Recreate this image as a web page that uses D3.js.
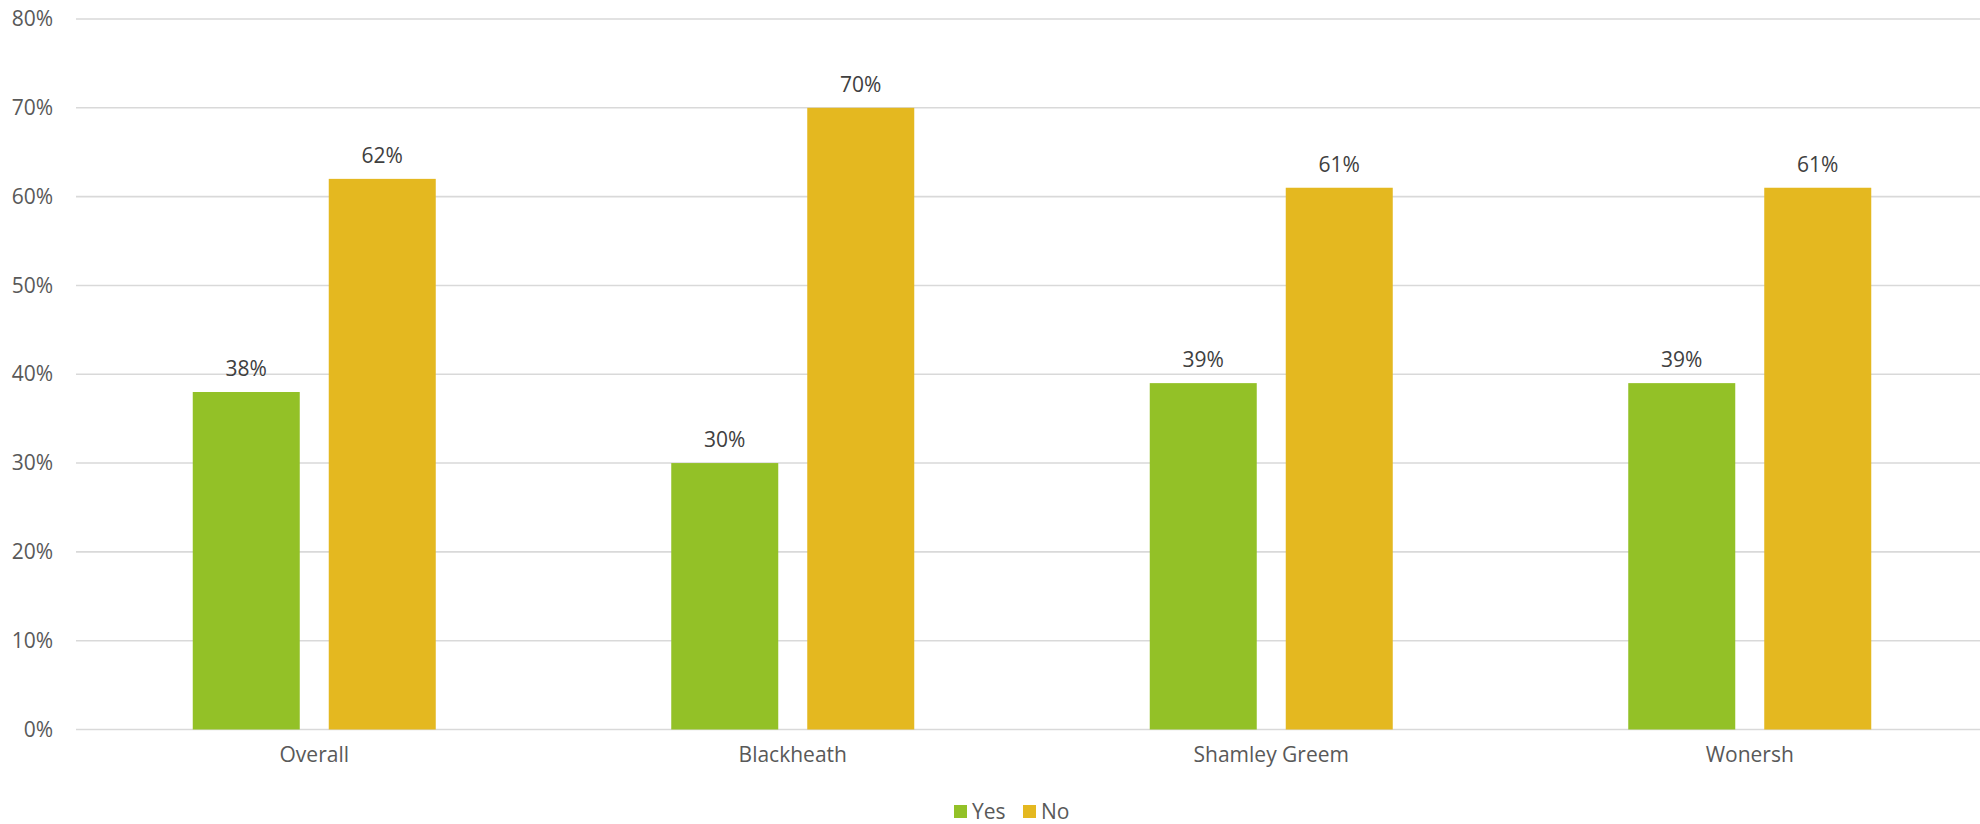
<!DOCTYPE html>
<html><head><meta charset="utf-8">
<script src="https://cdn.jsdelivr.net/npm/d3@7"></script>
<style>html,body{margin:0;padding:0;background:#fff;}</style>
</head><body>
<svg id="chart" width="1980" height="824"></svg>
<script>
const categories = ["Overall", "Blackheath", "Shamley Greem", "Wonersh"];
const seriesNames = ["Yes", "No"];
const yesValues = [38, 30, 39, 39];
const noValues = [62, 70, 61, 61];
const yTicks = [0, 10, 20, 30, 40, 50, 60, 70, 80];
const colors = ["#93c127", "#e4b820"];

const svg = d3.select("#chart");
const font = "'Open Sans', sans-serif";
const fs = 21;
const x0 = d3.scaleBand().domain(categories).range([75, 1989]).paddingInner(0).paddingOuter(0);
const y = d3.scaleLinear().domain([0, 80]).range([729.5, 19]);
const series = [yesValues, noValues];

// gridlines
svg.append("g").selectAll("line").data(yTicks).join("line")
  .attr("x1", 76).attr("x2", 1980)
  .attr("y1", d => y(d)).attr("y2", d => y(d))
  .attr("stroke", "#d9d9d9").attr("stroke-width", 1.6);

// y axis labels
const yAxis = d3.axisLeft(y).tickValues(yTicks).tickFormat(d => d + "%").tickSize(0).tickPadding(0);
const ya = svg.append("g").attr("transform", "translate(53,0)").call(yAxis);
ya.select(".domain").remove();
ya.selectAll("text").attr("font-family", font).attr("font-size", fs).attr("fill", "#595959");

// bars
const bw = 107, gap = 29;
const groups = svg.append("g").selectAll("g").data(categories).join("g")
  .attr("transform", d => `translate(${x0(d) + x0.bandwidth()/2},0)`);
series.forEach((vals, si) => {
  groups.append("rect")
    .attr("x", si === 0 ? -(gap/2 + bw) : gap/2)
    .attr("width", bw)
    .attr("y", (d, i) => y(vals[i]))
    .attr("height", (d, i) => y(0) - y(vals[i]))
    .attr("fill", colors[si]);
  groups.append("text")
    .attr("x", si === 0 ? -(gap/2 + bw/2) : gap/2 + bw/2)
    .attr("y", (d, i) => y(vals[i]) - 16)
    .attr("text-anchor", "middle")
    .attr("font-family", font).attr("font-size", fs).attr("fill", "#404040")
    .text((d, i) => vals[i] + "%");
});

// x axis labels
const xAxis = d3.axisBottom(x0).tickSize(0).tickPadding(0);
const xa = svg.append("g").attr("transform", "translate(0,747)").call(xAxis);
xa.select(".domain").remove();
xa.selectAll("text").attr("font-family", font).attr("font-size", fs).attr("fill", "#595959").attr("dy", "0.71em");

// legend
const legend = svg.append("g");
const lx = [954, 1023];
seriesNames.forEach((n, i) => {
  legend.append("rect").attr("x", lx[i]).attr("y", 805).attr("width", 13).attr("height", 13).attr("fill", colors[i]);
  legend.append("text").attr("x", lx[i] + 18).attr("y", 819)
    .attr("font-family", font).attr("font-size", fs).attr("fill", "#595959").text(n);
});
</script>
</body></html>
